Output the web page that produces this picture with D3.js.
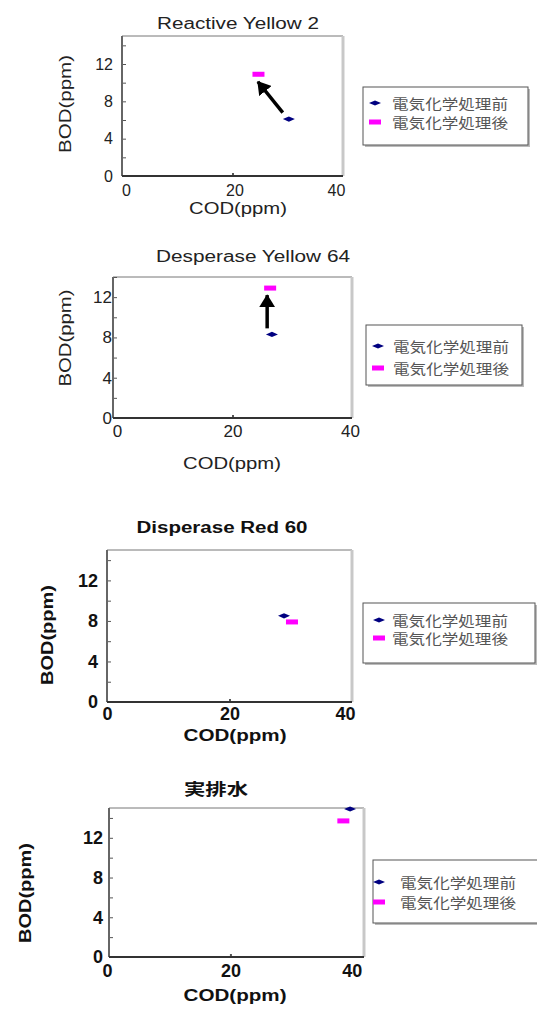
<!DOCTYPE html>
<meta charset="utf-8">
<style>
body { margin: 0; background: #fff; font-family: "Liberation Sans", Arial, sans-serif; }
.tick line { stroke: #555; }
</style>
<body>
<script src="https://d3js.org/d3.v7.min.js"></script>
<script>

// chart data
var titles = ["Reactive Yellow 2", "Desperase Yellow 64", "Disperase Red 60", "実排水"];
var seriesNames = ["電気化学処理前", "電気化学処理後"];
var codBefore = [30.2, 26.6, 28.9, 39.7];
var bodBefore = [6.1, 8.3, 8.5, 14.9];
var codAfter = [24.7, 26.3, 30.2, 38.6];
var bodAfter = [10.9, 12.9, 7.9, 13.7];
var xMax = [40, 40, 40, 42];
var yMax = [15, 14, 15, 15];
var xTickValues = [0, 20, 40];
var yTickValues = [0, 4, 8, 12];
var yMinorTicks = [0, 2, 4, 6, 8, 10, 12, 14];
// arrows drawn in data units: [panel, codFrom, bodFrom, codTo, bodTo]
var arrows = [[0, 29.1, 6.8, 24.6, 10.1], [1, 25.8, 8.9, 25.8, 12.2]];

// where each panel sits on the page
var layout = [
  {l: 122, r: 343, t: 36, b: 176, bold: false, tickFont: 16,
   title: [238, 29, 162], xlab: [238, 214, 98], ylab: [65, 104, 98],
   yPad: 9, xBase: 20, xNudge: [4, 2, -7],
   legend: {x: 363, y: 87, w: 165, h: 58, mx: 375, tx: 392, dy: [16, 35]}},
  {l: 113, r: 352, t: 277, b: 418, bold: false, tickFont: 17,
   title: [253, 262, 194], xlab: [232, 469, 98], ylab: [65, 338, 97],
   yPad: 1, xBase: 19, xNudge: [4, 0, -2],
   legend: {x: 366, y: 325, w: 156, h: 60, mx: 378, tx: 393, dy: [21, 43]}},
  {l: 107, r: 352, t: 550, b: 702, bold: true, tickFont: 18,
   title: [222, 533, 171], xlab: [235, 741, 103], ylab: [47, 635, 100],
   yPad: 9, xBase: 18, xNudge: [0, 0, -7],
   legend: {x: 363, y: 603, w: 172, h: 60, mx: 379, tx: 392, dy: [17, 35]}},
  {l: 109, r: 364, t: 808, b: 957, bold: true, tickFont: 18,
   title: [216, 795, 64], xlab: [235, 1001, 103], ylab: [25, 893, 100],
   yPad: 6, xBase: 20, xNudge: [-2, 0, 0],
   legend: {x: 373, y: 860, w: 170, h: 63, mx: 379, tx: 400, dy: [22, 42]}}
];

var svg = d3.select("body").append("svg")
    .attr("width", 537)
    .attr("height", 1010);

svg.append("defs").append("marker")
    .attr("id", "head")
    .attr("markerUnits", "userSpaceOnUse")
    .attr("viewBox", "0 0 13 16")
    .attr("refX", 12)
    .attr("refY", 8)
    .attr("markerWidth", 13)
    .attr("markerHeight", 16)
    .attr("orient", "auto")
  .append("path")
    .attr("d", "M0,0 L13,8 L0,16 Z")
    .attr("fill", "#000");

var diamond = "M-6,0 L0,-2.6 L6,0 L0,2.6 Z";

titles.forEach(function(title, i) {
    var p = layout[i];
    var weight = p.bold ? "bold" : "normal";
    var ink = p.bold ? "#111" : "#222";

    var x = d3.scaleLinear().domain([0, xMax[i]]).range([p.l, p.r]);
    var y = d3.scaleLinear().domain([0, yMax[i]]).range([p.b, p.t]);

    var g = svg.append("g");

    // frame
    g.append("line").attr("x1", p.l).attr("x2", p.r).attr("y1", p.t).attr("y2", p.t)
        .attr("stroke", "#777").attr("stroke-width", 1);
    g.append("line").attr("x1", p.r).attr("x2", p.r).attr("y1", p.t).attr("y2", p.b)
        .attr("stroke", "#c8c8c8").attr("stroke-width", 3);

    // minor ticks inside the plot
    g.append("g")
        .attr("transform", "translate(" + p.l + ",0)")
        .call(d3.axisRight(y).tickValues(yMinorTicks).tickSize(4).tickFormat(""))
        .call(function(a) { a.select(".domain").remove(); });
    g.append("g")
        .attr("transform", "translate(0," + p.b + ")")
        .call(d3.axisTop(x).tickValues([20]).tickSize(3).tickFormat(""))
        .call(function(a) { a.select(".domain").remove(); a.selectAll("line").attr("stroke", "#aaa").attr("stroke-width", 2); });

    // tick labels
    g.append("g")
        .attr("transform", "translate(" + p.l + ",0)")
        .call(d3.axisLeft(y).tickValues(yTickValues).tickSize(0).tickPadding(p.yPad))
        .call(function(a) {
            a.select(".domain").remove();
            a.selectAll("text").attr("font-size", p.tickFont).attr("font-family", "Liberation Sans")
                .attr("font-weight", weight).attr("fill", ink);
        });
    g.append("g")
        .attr("transform", "translate(0," + p.b + ")")
        .call(d3.axisBottom(x).tickValues(xTickValues).tickSize(0))
        .call(function(a) {
            a.select(".domain").remove();
            a.selectAll("text").attr("font-size", p.tickFont).attr("font-family", "Liberation Sans")
                .attr("font-weight", weight).attr("fill", ink)
                .attr("dy", null).attr("y", p.xBase)
                .attr("dx", function(d, k) { return p.xNudge[k]; });
        });

    // axis lines
    g.append("line").attr("x1", p.l).attr("x2", p.l).attr("y1", p.t).attr("y2", p.b)
        .attr("stroke", "#666").attr("stroke-width", 2);
    g.append("line").attr("x1", p.l).attr("x2", p.r).attr("y1", p.b).attr("y2", p.b)
        .attr("stroke", "#333").attr("stroke-width", 2);

    // texts
    g.append("text")
        .attr("x", p.title[0]).attr("y", p.title[1])
        .attr("text-anchor", "middle")
        .attr("font-size", 16).attr("font-weight", weight).attr("fill", ink)
        .attr("font-family", i == 3 ? "Noto Sans CJK JP" : "Liberation Sans")
        .attr("textLength", p.title[2]).attr("lengthAdjust", "spacingAndGlyphs")
        .text(title);
    g.append("text")
        .attr("x", p.xlab[0]).attr("y", p.xlab[1])
        .attr("text-anchor", "middle")
        .attr("font-size", 16).attr("font-weight", weight).attr("fill", ink)
        .attr("textLength", p.xlab[2]).attr("lengthAdjust", "spacingAndGlyphs")
        .text("COD(ppm)");
    g.append("text")
        .attr("transform", "translate(" + p.ylab[0] + "," + p.ylab[1] + ") rotate(-90)")
        .attr("text-anchor", "middle")
        .attr("dominant-baseline", "central")
        .attr("font-size", 17).attr("font-weight", weight).attr("fill", ink)
        .attr("textLength", p.ylab[2]).attr("lengthAdjust", "spacingAndGlyphs")
        .text("BOD(ppm)");

    // points
    g.append("rect")
        .attr("x", x(codAfter[i]) - 6).attr("y", y(bodAfter[i]) - 2.5)
        .attr("width", 12).attr("height", 5)
        .attr("fill", "#ff00ff");
    g.append("path")
        .attr("transform", "translate(" + x(codBefore[i]) + "," + y(bodBefore[i]) + ")")
        .attr("d", diamond)
        .attr("fill", "#000080");

    // legend
    var lg = p.legend;
    g.append("rect")
        .attr("x", lg.x + 2).attr("y", lg.y + 2).attr("width", lg.w).attr("height", lg.h)
        .attr("fill", "#bbb");
    g.append("rect")
        .attr("x", lg.x).attr("y", lg.y).attr("width", lg.w).attr("height", lg.h)
        .attr("fill", "#fff").attr("stroke", "#555").attr("stroke-width", 1);
    g.append("path")
        .attr("transform", "translate(" + lg.mx + "," + (lg.y + lg.dy[0]) + ")")
        .attr("d", diamond)
        .attr("fill", "#000080");
    g.append("rect")
        .attr("x", lg.mx - 6).attr("y", lg.y + lg.dy[1] - 2.5)
        .attr("width", 12).attr("height", 5)
        .attr("fill", "#ff00ff");
    seriesNames.forEach(function(name, k) {
        g.append("text")
            .attr("x", lg.tx).attr("y", lg.y + lg.dy[k])
            .attr("dominant-baseline", "central")
            .attr("font-family", "Noto Sans CJK JP")
            .attr("font-size", 14).attr("fill", "#555")
            .attr("textLength", 116).attr("lengthAdjust", "spacingAndGlyphs")
            .text(name);
    });
});

// arrows
arrows.forEach(function(a) {
    var p = layout[a[0]];
    var x = d3.scaleLinear().domain([0, xMax[a[0]]]).range([p.l, p.r]);
    var y = d3.scaleLinear().domain([0, yMax[a[0]]]).range([p.b, p.t]);
    svg.append("line")
        .attr("x1", x(a[1])).attr("y1", y(a[2]))
        .attr("x2", x(a[3])).attr("y2", y(a[4]))
        .attr("stroke", "#000").attr("stroke-width", 3.5)
        .attr("marker-end", "url(#head)");
});

</script>
</body>
